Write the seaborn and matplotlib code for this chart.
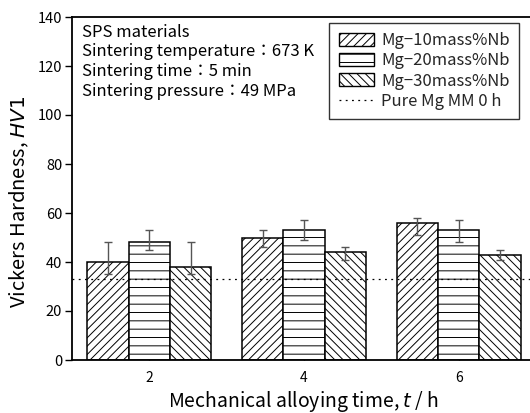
import matplotlib
matplotlib.use("Agg")
import matplotlib.pyplot as plt
import matplotlib.patches as mpatches
import matplotlib.lines as mlines
import seaborn as sns
import pandas as pd
import numpy as np

# ---- data ----
times = ["2", "4", "6"]
series = ["Mg−10mass%Nb", "Mg−20mass%Nb", "Mg−30mass%Nb"]
hv_10 = [40, 50, 56]
hv_20 = [48, 53, 53]
hv_30 = [38, 44, 43]
err_hi_10 = [48, 53, 58]
err_lo_10 = [35, 46, 51]
err_hi_20 = [53, 57, 57]
err_lo_20 = [45, 49, 48]
err_hi_30 = [48, 46, 45]
err_lo_30 = [35, 41, 41]
pure_mg = 33
yticks = [0, 20, 40, 60, 80, 100, 120, 140]

sns.set_theme(style="white")
plt.rcParams["font.family"] = ["Noto Sans CJK JP", "DejaVu Sans"]
plt.rcParams["mathtext.fontset"] = "dejavusans"
plt.rcParams["hatch.linewidth"] = 0.7
plt.rcParams["hatch.color"] = "black"

vals = [hv_10, hv_20, hv_30]
his = [err_hi_10, err_hi_20, err_hi_30]
los = [err_lo_10, err_lo_20, err_lo_30]
rows = []
for s, v in zip(series, vals):
    for t, y in zip(times, v):
        rows.append({"time": t, "series": s, "hv": y})
df = pd.DataFrame(rows)

fig = plt.figure(figsize=(5.3, 4.13), dpi=100)
ax = fig.add_axes([72 / 530, 53 / 413, 464 / 530, 343 / 413])

sns.barplot(data=df, x="time", y="hv", hue="series", order=times,
            hue_order=series, errorbar=None, width=0.8, ax=ax,
            palette=["white"] * 3, edgecolor="black", linewidth=1.1,
            legend=False)

hatches = ["////", "--", "\\\\\\\\"]
for cont, h, v, hi, lo in zip(ax.containers, hatches, vals, his, los):
    xs = []
    for p in cont.patches:
        p.set_hatch(h)
        p.set_facecolor("white")
        p.set_edgecolor("black")
        xs.append(p.get_x() + p.get_width() / 2)
    v = np.array(v, float)
    yerr = [v - np.array(lo), np.array(hi) - v]
    ax.errorbar(xs, v, yerr=yerr, fmt="none", ecolor="#555555",
                elinewidth=1.0, capsize=3, capthick=1.0, zorder=5)

ax.axhline(pure_mg, color="black", lw=0.9, ls=(0, (1.5, 3.5)), zorder=4)

ax.set_xlim(-0.5, 2.5)
ax.set_ylim(0, 140)
ax.set_yticks(yticks)
ax.tick_params(axis="y", direction="out", length=5, width=1, labelsize=10.5,
               left=True, colors="black", pad=2)
ax.tick_params(axis="x", direction="in", length=5, width=1, labelsize=10,
               bottom=True, pad=8, colors="black")
for side in ["left", "bottom", "top"]:
    ax.spines[side].set_color("black")
    ax.spines[side].set_linewidth(1.3)
ax.spines["right"].set_visible(False)

ax.set_xlabel("Mechanical alloying time, $\\it{t}$ / h", fontsize=14,
              color="black", labelpad=3)
ax.set_ylabel("Vickers Hardness, $\\it{HV1}$", fontsize=14.5, color="black")
ax.yaxis.set_label_coords(-0.088, 0.46)

ax.text(0.022, 0.98,
        "SPS materials\nSintering temperature：673 K\nSintering time：5 min\nSintering pressure：49 MPa",
        transform=ax.transAxes, ha="left", va="top", fontsize=12,
        linespacing=1.2, color="black")

leg_handles = [mpatches.Patch(facecolor="white", edgecolor="black", hatch=h, lw=1.0)
               for h in hatches]
leg_handles.append(mlines.Line2D([], [], color="black", lw=0.9, ls=(0, (1.5, 3.5))))
leg = ax.legend(leg_handles, series + ["Pure Mg MM 0 h"], loc="upper right",
                bbox_to_anchor=(0.963, 0.983), borderaxespad=0, fontsize=12,
                frameon=True, fancybox=False, edgecolor="black",
                handlelength=2.15, handleheight=0.8, labelspacing=0.2,
                handletextpad=0.4, borderpad=0.55)
leg.get_frame().set_linewidth(1.0)

fig.savefig("out.png", dpi=100)
